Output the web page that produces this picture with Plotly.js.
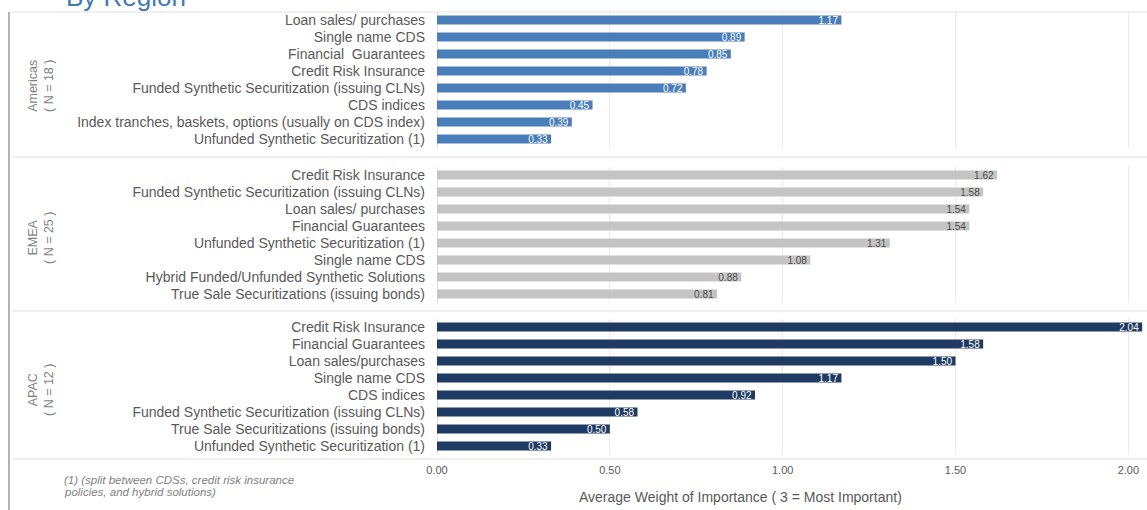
<!DOCTYPE html>
<html>
<head>
<meta charset="utf-8">
<script src="https://cdn.plot.ly/plotly-3.0.1.min.js"></script>
<style>
  html, body { margin: 0; padding: 0; background: #ffffff; }
  #chart { width: 1147px; height: 510px; }
</style>
</head>
<body>
<div id="chart"></div>
<script>
// ---- Data ----
const americasLabels = [
  "Loan sales/ purchases",
  "Single name CDS",
  "Financial  Guarantees",
  "Credit Risk Insurance",
  "Funded Synthetic Securitization (issuing CLNs)",
  "CDS indices",
  "Index tranches, baskets, options (usually on CDS index)",
  "Unfunded Synthetic Securitization (1)"
];
const americasValues = [1.17, 0.89, 0.85, 0.78, 0.72, 0.45, 0.39, 0.33];

const emeaLabels = [
  "Credit Risk Insurance",
  "Funded Synthetic Securitization (issuing CLNs)",
  "Loan sales/ purchases",
  "Financial Guarantees",
  "Unfunded Synthetic Securitization (1)",
  "Single name CDS",
  "Hybrid Funded/Unfunded Synthetic Solutions",
  "True Sale Securitizations (issuing bonds)"
];
const emeaValues = [1.62, 1.58, 1.54, 1.54, 1.31, 1.08, 0.88, 0.81];

const apacLabels = [
  "Credit Risk Insurance",
  "Financial Guarantees",
  "Loan sales/purchases",
  "Single name CDS",
  "CDS indices",
  "Funded Synthetic Securitization (issuing CLNs)",
  "True Sale Securitizations (issuing bonds)",
  "Unfunded Synthetic Securitization (1)"
];
const apacValues = [2.04, 1.58, 1.50, 1.17, 0.92, 0.58, 0.50, 0.33];

const chartTitle = "By Region";
const regionNames = ["Americas<br>( N = 18 )", "EMEA<br>( N = 25 )", "APAC<br>( N = 12 )"];
const xTickVals = [0, 0.5, 1.0, 1.5, 2.0];
const xTickText = ["0.00", "0.50", "1.00", "1.50", "2.00"];
const xTitleText = "Average Weight of Importance ( 3 = Most Important)";
const footnoteLines = [
  "(1) (split between CDSs, credit risk insurance",
  "policies, and hybrid solutions)"
];

// ---- Styling ----
const FONT = "Liberation Sans, Arial, sans-serif";
const labelColor = "#595959";

function barTrace(labels, values, color, textColor, yaxis) {
  return {
    type: "bar",
    orientation: "h",
    y: labels,
    x: values,
    yaxis: yaxis,
    xaxis: "x",
    marker: { color: color },
    width: 0.52,
    text: values.map(v => v.toFixed(2)),
    textposition: "inside",
    insidetextanchor: "end",
    textfont: { family: FONT, size: 10, color: textColor },
    constraintext: "none",
    cliponaxis: false,
    hoverinfo: "x+y"
  };
}

const traces = [
  barTrace(americasLabels, americasValues, "#4a7ebb", "#ffffff", "y"),
  barTrace(emeaLabels, emeaValues, "#c4c4c4", "#4d4d4d", "y2"),
  barTrace(apacLabels, apacValues, "#1f3a63", "#ffffff", "y3")
];

function yAxis(labels, domain) {
  return {
    domain: domain,
    type: "category",
    categoryorder: "array",
    categoryarray: labels.slice().reverse(),
    tickfont: { family: FONT, size: 14, color: labelColor },
    ticklabelstandoff: 11,
    ticks: "",
    ticklen: 0,
    showgrid: false,
    showline: false,
    zeroline: false,
    automargin: false,
    anchor: "x",
    fixedrange: true
  };
}

const plotL = 437, plotR = 1147, plotT = 10, plotB = 458;
const plotW = plotR - plotL, plotH = plotB - plotT;
const px = x => (x - plotL) / plotW;
const py = y => (plotB - y) / plotH;

const separatorColor = "#e2e2e2";
const shapes = [
  { type: "line", xref: "paper", yref: "paper", x0: px(9), x1: px(9), y0: py(12), y1: py(515),
    line: { color: "#9a9a9a", width: 1.5 } },
  { type: "line", xref: "paper", yref: "paper", x0: px(12), x1: 1, y0: py(12), y1: py(12),
    line: { color: separatorColor, width: 1 } },
  { type: "line", xref: "paper", yref: "paper", x0: px(12), x1: 1, y0: py(157), y1: py(157),
    line: { color: separatorColor, width: 1 } },
  { type: "line", xref: "paper", yref: "paper", x0: px(12), x1: 1, y0: py(311), y1: py(311),
    line: { color: separatorColor, width: 1 } },
  { type: "line", xref: "paper", yref: "paper", x0: px(12), x1: 1, y0: py(459), y1: py(459),
    line: { color: separatorColor, width: 1 } }
];

const regionCentersPx = [86, 238, 390];
const annotations = regionNames.map((name, i) => ({
  text: name,
  xref: "paper", yref: "paper",
  x: px(41), y: py(regionCentersPx[i]),
  xanchor: "center", yanchor: "middle",
  textangle: -90,
  showarrow: false,
  font: { family: FONT, size: 12.5, color: "#7f7f7f" }
}));
footnoteLines.forEach((line, i) => {
  annotations.push({
    text: "<i>" + line + "</i>",
    xref: "paper", yref: "paper",
    x: px(62), y: py(480 + i * 12),
    xanchor: "left", yanchor: "middle", align: "left",
    showarrow: false,
    font: { family: FONT, size: 11.5, color: "#7f7f7f" }
  });
});
annotations.push({
  text: xTitleText,
  xref: "paper", yref: "paper",
  x: px(740), y: py(497),
  xanchor: "center", yanchor: "middle",
  showarrow: false,
  font: { family: FONT, size: 14, color: labelColor }
});
// Chart title, partly above the visible area as in the reference
annotations.push({
  text: chartTitle,
  xref: "paper", yref: "paper",
  x: px(64), y: py(-3),
  xanchor: "left", yanchor: "middle",
  showarrow: false,
  font: { family: FONT, size: 26, color: "#3f7ab5" }
});

const layout = {
  width: 1147,
  height: 510,
  paper_bgcolor: "#ffffff",
  plot_bgcolor: "#ffffff",
  margin: { l: plotL, r: 1147 - plotR, t: plotT, b: 510 - plotB },
  showlegend: false,
  xaxis: {
    range: [0, 2.054],
    tickvals: xTickVals,
    ticktext: xTickText,
    tickfont: { family: FONT, size: 11, color: labelColor },
    ticklabelstandoff: 4,
    showgrid: true,
    gridcolor: "#ececec",
    gridwidth: 1,
    zeroline: true,
    zerolinecolor: "#e0e0e0",
    showline: false,
    ticks: "",
    anchor: "free",
    position: 0,
    fixedrange: true
  },
  yaxis: yAxis(americasLabels, [py(147.5), py(11.5)]),
  yaxis2: yAxis(emeaLabels, [py(302.5), py(166.5)]),
  yaxis3: yAxis(apacLabels, [py(454.5), py(318.5)]),
  shapes: shapes,
  annotations: annotations
};

Plotly.newPlot("chart", traces, layout, { displayModeBar: false, staticPlot: true });
</script>
</body>
</html>
